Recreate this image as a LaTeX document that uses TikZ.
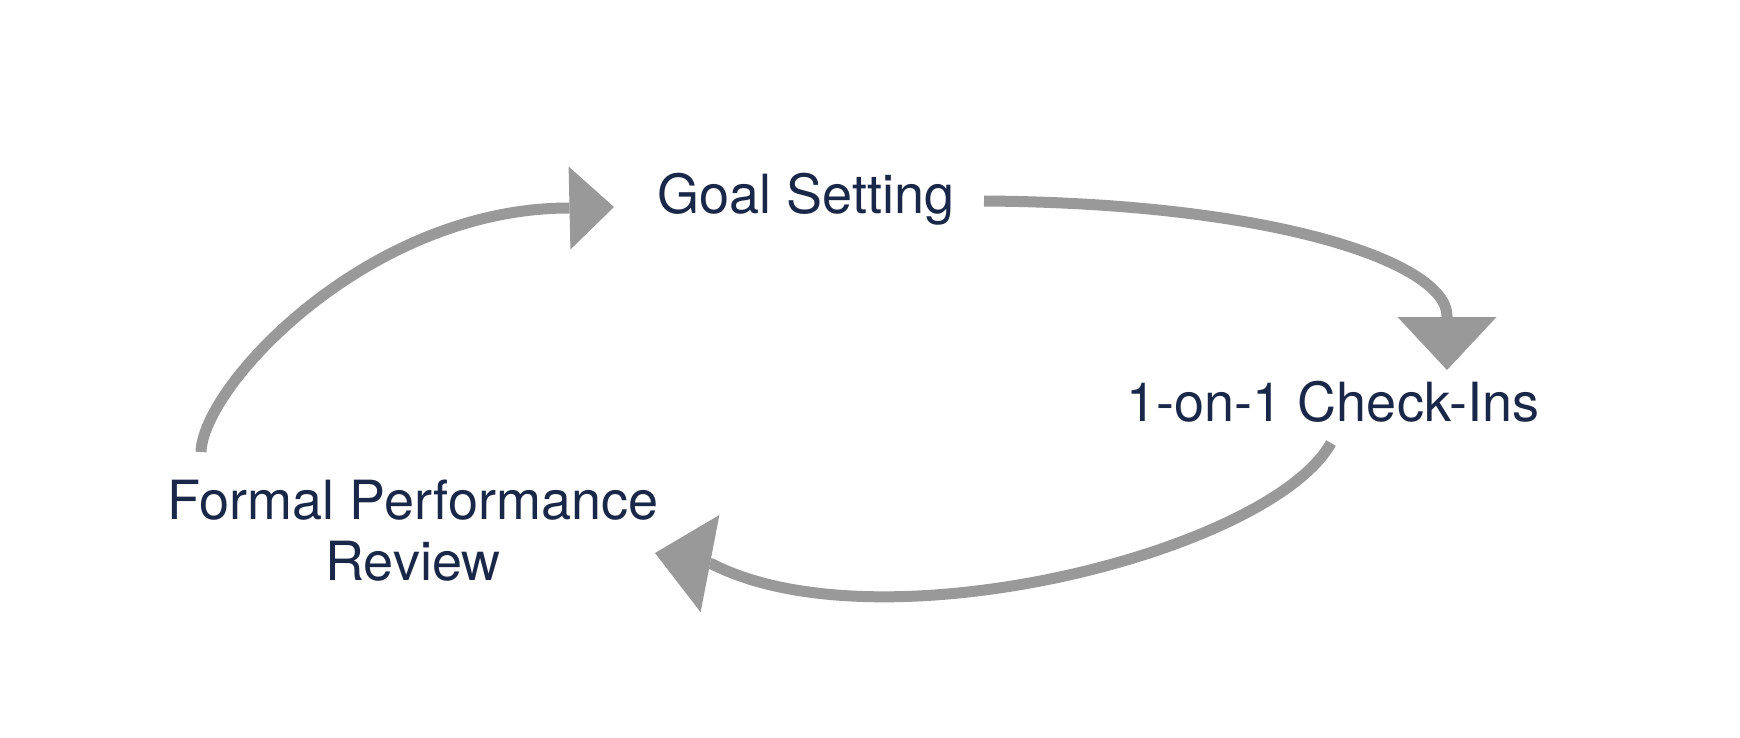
\documentclass[tikz,border=0pt]{standalone}
\usepackage{fontspec}
\setmainfont{TeX Gyre Heros}
\usetikzlibrary{arrows.meta}
\definecolor{navytext}{RGB}{25,40,72}
\definecolor{flowgray}{RGB}{153,153,153}
\tikzset{
  label/.style={text=navytext, font=\fontsize{54}{61}\selectfont, inner sep=0pt, align=center, anchor=base},
  flow/.style={draw=flowgray, line width=11pt, line join=round}
}
\begin{document}
\begin{tikzpicture}[x=1pt,y=-1pt]
\path[use as bounding box, fill=white] (0,0) rectangle (1740,738);

\node[label] (goal) at (806,214) {Goal Setting};
\node[label] (checkin) at (1333,421) {1-on-1 Check-Ins};
\node[label] (review) at (413,580) {Formal Performance\\Review};

% connector end points
\coordinate (review-out) at (201,452);
\coordinate (goal-in-base) at (569,208);
\coordinate (goal-in) at (614,207);
\coordinate (goal-out) at (984,201);
\coordinate (check-in-base) at (1447,316);
\coordinate (check-in) at (1447,370);
\coordinate (check-out) at (1331,443);
\coordinate (review-in-base) at (712,564);
\coordinate (review-in) at (655,553);

\draw[flow, -{Triangle[length=44.5pt,width=83pt,line width=0pt]}]
  (review-out) .. controls (203,385) and (369,208) .. (goal-in-base) -- (goal-in);
\draw[flow, -{Triangle[length=53pt,width=99pt,line width=0pt]}]
  (goal-out) .. controls (1280,203) and (1447,264) .. (check-in-base) -- (check-in);
\draw[flow, -{Triangle[length=56pt,width=99pt,line width=0pt]}]
  (check-out) .. controls (1270,552) and (880,650) .. (review-in-base) -- (review-in);
\end{tikzpicture}
\end{document}
